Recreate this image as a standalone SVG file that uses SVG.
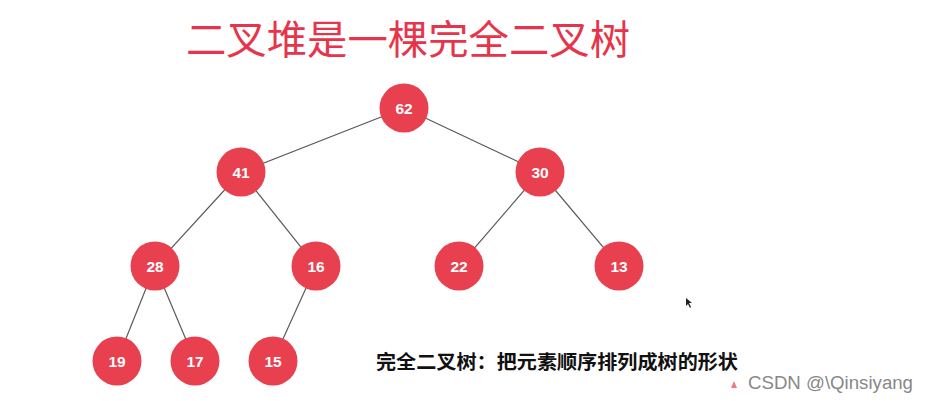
<svg xmlns="http://www.w3.org/2000/svg" width="928" height="401" viewBox="0 0 928 401">
<style>
.node circle{fill:#e8404f;}
.node text{fill:#fff;font-family:"Liberation Sans",Arial,sans-serif;font-weight:bold;font-size:15.5px;text-anchor:middle;dominant-baseline:central;}
.edges line{stroke:#5a5a5a;stroke-width:1.2;}
.title{fill:#e8344a;font-family:"Noto Sans CJK SC",sans-serif;font-size:40px;}
.caption{fill:#111;font-family:"Noto Sans CJK SC",sans-serif;font-weight:bold;font-size:19.5px;}
.wm{fill:#888;font-family:"Liberation Sans",Arial,sans-serif;font-size:18px;}
</style>
<rect width="928" height="401" fill="#fff"/>
<text class="title" x="186" y="54" textLength="444" lengthAdjust="spacingAndGlyphs">二叉堆是一棵完全二叉树</text>
<g class="edges">
<line x1="404" y1="108" x2="241" y2="172"/>
<line x1="404" y1="108" x2="540" y2="172"/>
<line x1="241" y1="172" x2="155" y2="266"/>
<line x1="241" y1="172" x2="316" y2="266"/>
<line x1="540" y1="172" x2="459" y2="266"/>
<line x1="540" y1="172" x2="619" y2="266"/>
<line x1="155" y1="266" x2="117" y2="361"/>
<line x1="155" y1="266" x2="195" y2="361"/>
<line x1="316" y1="266" x2="273" y2="361"/>
</g>
<g id="n62" class="node"><circle cx="404" cy="108" r="24.5"/><text x="404" y="108">62</text></g>
<g id="n41" class="node"><circle cx="241" cy="172" r="24.5"/><text x="241" y="172">41</text></g>
<g id="n30" class="node"><circle cx="540" cy="172" r="24.5"/><text x="540" y="172">30</text></g>
<g id="n28" class="node"><circle cx="155" cy="266" r="24.5"/><text x="155" y="266">28</text></g>
<g id="n16" class="node"><circle cx="316" cy="266" r="24.5"/><text x="316" y="266">16</text></g>
<g id="n22" class="node"><circle cx="459" cy="266" r="24.5"/><text x="459" y="266">22</text></g>
<g id="n13" class="node"><circle cx="619" cy="266" r="24.5"/><text x="619" y="266">13</text></g>
<g id="n19" class="node"><circle cx="117" cy="361" r="24.5"/><text x="117" y="361">19</text></g>
<g id="n17" class="node"><circle cx="195" cy="361" r="24.5"/><text x="195" y="361">17</text></g>
<g id="n15" class="node"><circle cx="273" cy="361" r="24.5"/><text x="273" y="361">15</text></g>
<text class="caption" x="376" y="369" textLength="362" lengthAdjust="spacingAndGlyphs">完全二叉树：把元素顺序排列成树的形状</text>
<path d="M686 298 L686 306 L688 304 L690 308 L691 307 L689 303 L692 303 Z" fill="#222"/>
<path d="M731 388 L734 381 L737 388 Z" fill="#e8404f" opacity="0.7"/>
<text class="wm" x="748" y="389" textLength="165" lengthAdjust="spacingAndGlyphs">CSDN @\Qinsiyang</text>
</svg>
